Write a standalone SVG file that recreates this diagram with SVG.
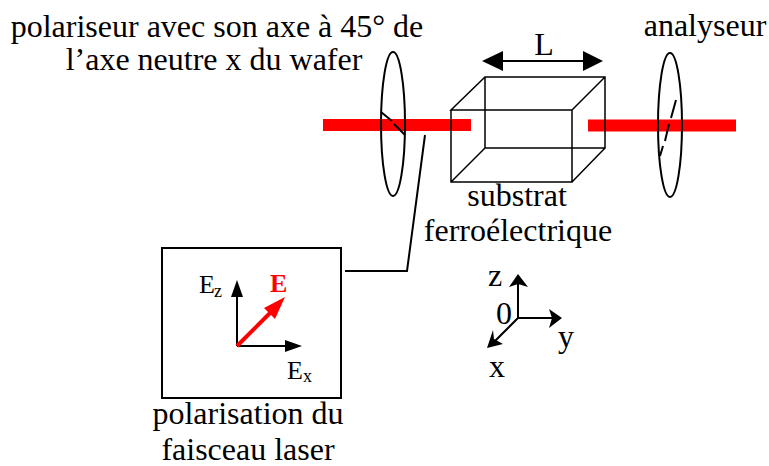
<svg xmlns="http://www.w3.org/2000/svg" width="769" height="466" viewBox="0 0 769 466">
<style>
text{font-family:"Liberation Serif","Times New Roman",serif;fill:#000;font-size:32px}
.c{text-anchor:middle}
.l{fill:none;stroke:#000;stroke-width:2}
.t{fill:none;stroke:#000;stroke-width:1.5}
.b{fill:none;stroke:#f00;stroke-width:12}
.e{font-size:26px}
.sub{font-size:18px}
</style>
<rect width="769" height="466" fill="#fff"/>
<g id="beam-left"><path class="b" d="M323 125H471"/></g>
<g id="beam-right"><path class="b" d="M588 125.500H736"/></g>
<g id="polariseur">
<ellipse class="l" cx="393" cy="124" rx="12" ry="72"/>
<path class="l" d="M381 112L392 121M394 124L405 135"/>
<text class="c" x="217" y="37">polariseur avec son axe à 45° de</text>
<text class="c" x="214" y="70">l’axe neutre x du wafer</text>
</g>
<g id="substrat">
<path class="t" d="M451 110V182H572V110H451L485 77H605V148H485V77M485 148L451 182M572 110L605 77M605 148L572 182"/>
<text class="c" x="517" y="206">substrat</text>
<text class="c" x="518" y="241">ferroélectrique</text>
</g>
<g id="analyseur">
<ellipse class="l" cx="670" cy="125" rx="12" ry="72"/>
<path class="l" d="M676 100L671 118M669 124L665 141M663 146L660 156"/>
<text class="c" x="705" y="36">analyseur</text>
</g>
<g id="longueur">
<path d="M500 61H586" stroke="#000" stroke-width="2"/>
<path d="M482 61L503 51V71Z"/>
<path d="M583 51V71L603 61Z"/>
<text class="c" x="544" y="55">L</text>
</g>
<g id="polarisation">
<rect x="162" y="248" width="179" height="150" fill="none" stroke="#000" stroke-width="2"/>
<path class="l" d="M237 346V295M237 346H290"/>
<path d="M237 280L231 297H243Z"/>
<path d="M302 346L285 340V352Z"/>
<path d="M237 346L272 311" stroke="#f00" stroke-width="4"/>
<path d="M285 297L264 308L275 319Z" fill="#f00"/>
<text class="e" x="199" y="293">E</text><text class="sub" x="214" y="297">z</text>
<text class="e" x="270" y="292" style="fill:#f00;font-weight:bold">E</text>
<text class="e" x="287" y="379">E</text><text class="sub" x="303" y="382">x</text>
<text class="c" x="248" y="424">polarisation du</text>
<text class="c" x="248" y="460">faisceau laser</text>
</g>
<g id="connecteurs">
<path class="l" d="M345 271H407L425 135"/>
</g>
<g id="axes">
<path class="l" d="M518 318V283M518 318H553M518 318L492 344"/>
<path d="M518 274L509 287L518 284L528 287Z"/>
<path d="M562 318L549 309L552 318L549 328Z"/>
<path d="M487 348L503 344L494 339L493 330Z"/>
<text class="c" x="495" y="286">z</text>
<text class="c" x="504" y="324">0</text>
<text class="c" x="566" y="347">y</text>
<text class="c" x="497" y="377">x</text>
</g>
</svg>
